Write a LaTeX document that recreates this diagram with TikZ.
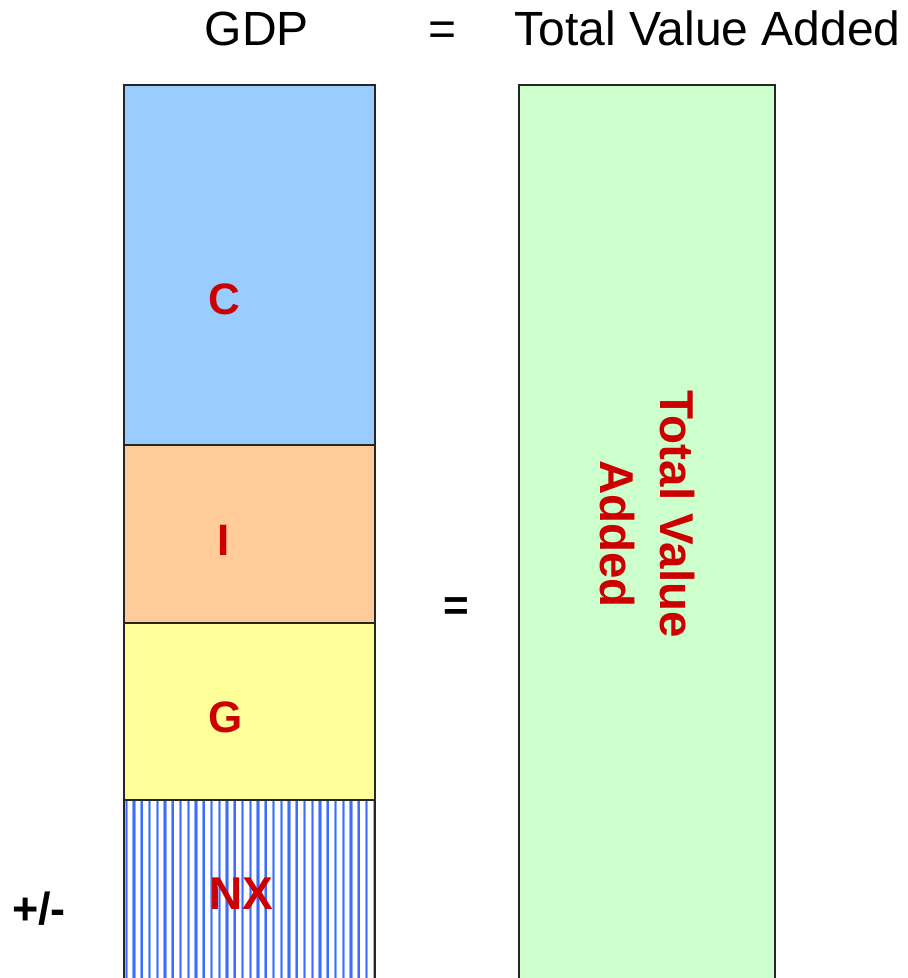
\documentclass[tikz,border=0pt]{standalone}
\usepackage{fontspec}
\setmainfont{Liberation Sans}
\definecolor{cblue}{HTML}{99CCFF}
\definecolor{iorange}{HTML}{FFCC99}
\definecolor{gyellow}{HTML}{FFFF99}
\definecolor{tgreen}{HTML}{CCFFCC}
\definecolor{lred}{HTML}{CC0000}
\definecolor{hatch}{HTML}{3D6BFF}
\definecolor{hatchl}{HTML}{8FAEFF}
\begin{document}
\begin{tikzpicture}[x=1pt,y=-1pt,
  box/.style={draw=black!85, line width=2pt, inner sep=0pt},
  lab/.style={text=lred, font=\bfseries\fontsize{44}{50}\selectfont, inner sep=0pt, anchor=base},
  head/.style={font=\fontsize{48}{50}\selectfont, inner sep=0pt, anchor=base}]
\useasboundingbox (0,0) rectangle (908,978);
% header
\node[head] (gdp) at (257,45) {GDP};
\node[head] (eqtop) at (443,45) {=};
\node[head] (tva) at (707.5,45) {Total Value Added};
% left stack
\node[box, fill=cblue, minimum width=251pt, minimum height=360pt] (C) at (249.5,265) {};
\node[box, fill=iorange, minimum width=251pt, minimum height=178pt] (I) at (249.5,534) {};
\node[box, fill=gyellow, minimum width=251pt, minimum height=177pt] (G) at (249.5,711.5) {};
\node[box, fill=white, minimum width=251pt, minimum height=180pt] (NX) at (249.5,890) {};
\begin{scope}
  \clip (NX.north west) rectangle (NX.south east);
  \foreach \k in {0,...,33} {
    \draw[hatchl, line width=3.2pt] (126.3+7.75*\k,800) -- (126.3+7.75*\k,980);
    \draw[hatch, line width=1.4pt] (126.3+7.75*\k,800) -- (126.3+7.75*\k,980);
  }
\end{scope}
\node[box, minimum width=251pt, minimum height=180pt] at (NX) {};
% labels
\node[lab] (lc) at (224.5,314) {C};
\node[lab] (li) at (224,555) {I};
\node[lab] (lg) at (226,732) {G};
\node[lab, font=\bfseries\fontsize{46}{50}\selectfont] (lnx) at (241,909) {NX};
\node[anchor=base, text=black, font=\bfseries\fontsize{45}{46}\selectfont, inner sep=0pt] (pm) at (39,924) {+/-};
% middle equals
\node[anchor=base, font=\bfseries\fontsize{44}{50}\selectfont, inner sep=0pt] (eqmid) at (456.5,620) {=};
% right box
\node[box, fill=tgreen, minimum width=256pt, minimum height=895pt] (TV) at (647,532.5) {};
\node[lab, rotate=-90, font=\bfseries\fontsize{47.5}{50}\selectfont] (ltv1) at (660,514) {Total Value};
\node[lab, rotate=-90, font=\bfseries\fontsize{47.5}{50}\selectfont] (ltv2) at (600,534) {Added};
\end{tikzpicture}
\end{document}
